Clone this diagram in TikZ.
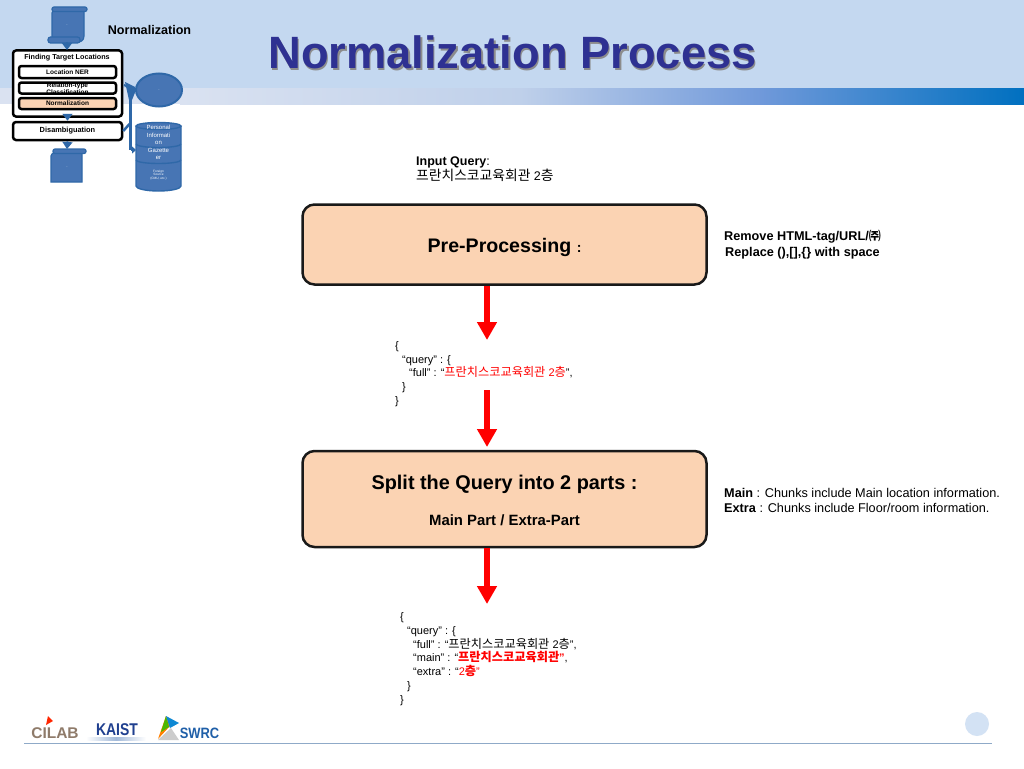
\documentclass[tikz,border=0pt]{standalone}
\usepackage{fontspec}
\setmainfont{Liberation Sans}
\newfontfamily\cjk{Noto Sans CJK KR}
\usetikzlibrary{arrows.meta,shapes.geometric,shapes.arrows,shadows}
\definecolor{hdr}{HTML}{C4D8F0}
\definecolor{bandA}{HTML}{DAE2F1}
\definecolor{bandB}{HTML}{BFD0EA}
\definecolor{bandC}{HTML}{7099DA}
\definecolor{hdrb}{HTML}{0070C0}
\definecolor{peach}{HTML}{FBD3B3}
\definecolor{ttl}{HTML}{2E3192}
\definecolor{flow}{HTML}{4775B4}
\definecolor{flowd}{HTML}{2F68A8}
\definecolor{footrule}{HTML}{8FAAC8}
\definecolor{cilabc}{HTML}{8F7B6A}
\definecolor{kaistc}{HTML}{1F3F8F}
\definecolor{swrcc}{HTML}{1F5FA8}
\newcommand{\fs}[1]{\fontsize{#1}{#1}\selectfont}
\newcommand{\lines}[2]{\fontsize{#1}{#2}\selectfont\lineskiplimit=-100pt\relax}
\tikzset{
  x=1pt,y=-1pt,
  bigbox/.style={draw=black!90,line width=2.5pt,rounded corners=12pt,fill=peach},
  bodytext/.style={inner sep=0pt,align=left,anchor=north west},
  redarrow/.style={draw=red,line width=6pt,-{Triangle[length=18pt,width=19pt]}},
  mini/.style={draw=black,line width=2.5pt,rounded corners=2.5pt,fill=white,align=center,inner sep=0pt,font=\bfseries\fs{6.5}},
  mflow/.style={draw=flowd,line width=1.6pt,-{Triangle[length=7pt,width=10pt]}},
  doc/.style={draw=flowd,fill=flow,line width=1.2pt},
  dbpart/.style={draw=flowd,fill=flow,line width=1.4pt},
  tiny/.style={font=\fs{2.5},text=white,align=center,inner sep=0pt},
}
\begin{document}
\begin{tikzpicture}
\useasboundingbox (0,0) rectangle (1024,768);
\fill[white] (0,0) rectangle (1024,768);
% header
\fill[hdr] (0,0) rectangle (1024,88);
\fill[bandA] (0,88) rectangle (180,104);
\shade[left color=bandA,right color=bandB] (180,88) rectangle (520.5,104);
\shade[left color=bandB,right color=bandC] (520,88) rectangle (760.5,104);
\shade[left color=bandC,right color=hdrb] (760,88) rectangle (1024,104);
\node[inner sep=0pt,text=black!45,font=\bfseries\fs{45.3}] (titles) at (514,54) {Normalization Process};
\node[inner sep=0pt,text=ttl,font=\bfseries\fs{45.3}] (title) at (512.5,52.5) {Normalization Process};
\node[inner sep=0pt,font=\bfseries\fs{12.6}] (mininame) at (149.5,29.5) {Normalization};
% mini flow
\draw[doc] (57,10) -- (84,10) -- (84,36) .. controls (84,41) and (80,42) .. (78,42) -- (52,42) -- (52,13) .. controls (52,10) and (54,10) .. (57,10) -- cycle;
\draw[doc,rounded corners=2pt] (52,7) rectangle (87,11.5);
\draw[doc,rounded corners=2.5pt] (48,37) rectangle (80,43);
\node[tiny] (docin) at (67,25) {...};
\coordinate (a1s) at (67,42);\coordinate (a1e) at (67,50);
\node[draw=black,line width=2.5pt,rounded corners=3pt,fill=white,minimum width=109pt,minimum height=66pt,inner sep=0pt] (ftl) at (67.5,83.5) {};
\node[inner sep=0pt,font=\bfseries\fs{7.2}] (ftlt) at (67,58) {Finding Target Locations};
\node[mini,minimum width=97pt,minimum height=12pt] (ner) at (67.5,72) {Location NER};
\node[mini,minimum width=97pt,minimum height=11pt] (rel) at (67.5,88) {};
\begin{scope}
\clip (18,81.5) rectangle (117,94.5);
\node[inner sep=0pt,align=center,font=\bfseries\fs{6.5}] (relt) at (67.5,88.5) {Relation-type\\[1pt]Classification};
\end{scope}
\node[mini,fill=peach,minimum width=97pt,minimum height=11pt] (norm) at (67.5,103.5) {Normalization};
\node[draw=black,line width=2.5pt,rounded corners=3pt,fill=white,minimum width=109pt,minimum height=18pt,inner sep=0pt,font=\bfseries\fs{7.4}] (dis) at (67.5,131) {Disambiguation};
\draw[doc] (56,153) -- (82,153) -- (82,182) -- (51,182) -- (51,156) .. controls (51,153) and (53,153) .. (56,153) -- cycle;
\draw[doc,rounded corners=2pt] (53,149) rectangle (86,153.5);
\node[tiny] (docout) at (67,167) {...};
\draw[mflow] (a1s) -- (a1e);
\draw[mflow] (ftl.south) -- (dis.north);
\draw[mflow] (dis.south) -- (67,149);
\node[ellipse,draw=flowd,fill=flow,line width=2pt,minimum width=46pt,minimum height=33pt,inner sep=0pt,tiny] (ell) at (159,90) {...};
% db
\draw[dbpart] (136,126) -- (136,186) arc[start angle=180,end angle=0,x radius=22.5,y radius=5] -- (181,126);
\draw[dbpart] (158.5,126) ellipse[x radius=22.5,y radius=3.5];
\draw[draw=flowd,line width=1.4pt] (136,144) arc[start angle=180,end angle=0,x radius=22.5,y radius=3.5];
\draw[draw=flowd,line width=1.4pt] (136,160) arc[start angle=180,end angle=0,x radius=22.5,y radius=3.5];
\node[inner sep=0pt,align=center,text=white,font=\fs{6}] (db1) at (158.5,135) {Personal\\[1.5pt]Informati\\[1.5pt]on};
\node[inner sep=0pt,align=center,text=white,font=\fs{6}] (db2) at (158.5,154) {Gazette\\[1.5pt]er};
\node[inner sep=0pt,align=center,text=white,font=\fs{3.2}] (db3) at (158.5,175) {Foreign\\Source\\(CMU, etc.)};
% mini side connectors
\coordinate (j1) at (130.5,92);
\coordinate (j2) at (130.5,150);
\draw[flowd,line width=3pt] (j1) -- (j2);
\draw[flowd,line width=2pt] (124,85) -- (ell.west);
\draw[flowd,line width=2.5pt] (dis.east) -- (129.5,124);
\draw[flowd,line width=2.5pt,-{Triangle[length=4pt,width=7pt]}] (j2) -- (136,150);
\fill[flowd] (125,82) -- (135,87) -- (136,90) -- (132,100) -- (129,100) -- cycle;
% main query
\node[bodytext,font=\lines{12.5}{14.5}] (input) at (416,157) {\textbf{Input Query}:\\{\cjk\fs{13.8}프란치스코교육회관} 2{\cjk\fs{13.8}층}};
\node[bigbox,minimum width=404pt,minimum height=80pt,inner sep=0pt] (pre) at (504.5,244.5) {};
\node[inner sep=0pt,font=\bfseries\fs{19.6}] (pret) at (504.5,247.5) {Pre-Processing \fs{14}:};
\node[inner sep=0pt,align=center,font=\bfseries\lines{12.7}{16}] (pren) at (802.5,245) {Remove HTML-tag/URL/{\cjk\fs{12}㈜}\\Replace (),[],\{\} with space};
\node[bodytext,font=\lines{11}{13.6}] (j1t) at (395,341.5) {\{\\
\hspace*{7pt}“query” : \{\\
\hspace*{14pt}“full” : “\textcolor{red}{{\cjk\fs{12.2}프란치스코교육회관} 2{\cjk\fs{12.2}층}}”,\\
\hspace*{7pt}\}\\
\}};
\node[bigbox,minimum width=404pt,minimum height=96pt,inner sep=0pt] (split) at (504.5,499) {};
\node[inner sep=0pt,font=\bfseries\fs{19.85}] (splitt) at (504.5,484.5) {Split the Query into 2 parts :};
\node[inner sep=0pt,font=\bfseries\fs{14.9}] (splits) at (504.5,520.5) {Main Part / Extra-Part};
\node[bodytext,font=\lines{12.7}{15.2}] (splitn) at (724,488) {\textbf{Main} : Chunks include Main location information.\\\textbf{Extra} : Chunks include Floor/room information.};
\node[bodytext,font=\lines{11}{13.75}] (j2t) at (400,612.5) {\{\\
\hspace*{7pt}“query” : \{\\
\hspace*{13pt}“full” : “{\cjk\fs{12.2}프란치스코교육회관} 2{\cjk\fs{12.2}층}”,\\
\hspace*{13pt}“main” : “\textcolor{red}{\bfseries{\cjk\bfseries\fs{12.2}프란치스코교육회관}”},\\
\hspace*{13pt}“extra” : “\textcolor{red}{2{\cjk\bfseries\fs{12.2}층}”}\\
\hspace*{7pt}\}\\
\}};
\coordinate (a1e2) at (487,340);
\coordinate (a2s) at (487,390);
\coordinate (a2e) at (487,447);
\coordinate (a3e) at (487,604);
\draw[redarrow] (pre.south -| a1e2) -- (a1e2);
\draw[redarrow] (a2s) -- (a2e);
\draw[redarrow] (split.south -| a3e) -- (a3e);
% footer
\draw[draw=footrule,line width=1.2pt] (24,743.5) -- (992,743.5);
\node[circle,fill=hdr!75!white,minimum size=24pt,inner sep=0pt] (dot) at (977,724) {};
% logos
\node[inner sep=0pt,text=cilabc,font=\bfseries\fs{15.5}] (cilab) at (55,733) {CILAB};
\fill[red!70!orange] (48,716) -- (53,721) -- (46,725) -- cycle;
\node[inner sep=0pt,text=kaistc,xscale=.82,font=\bfseries\fs{17}] (kaist) at (117,730) {KAIST};
\shade[left color=white,right color=white,middle color=flow!50!white] (86,737) rectangle (146,740);
\fill[orange] (158,739) -- (166,716) -- (170,726) -- cycle;
\fill[green!60!black!70!yellow] (161,732) -- (166,716) -- (169,727) -- cycle;
\fill[cyan!70!blue] (166,716) -- (179,723) -- (170,728) -- cycle;
\fill[black!20] (158,740) -- (171,728) -- (179,740) -- cycle;
\node[inner sep=0pt,text=swrcc,xscale=.86,font=\bfseries\fs{15}] (swrc) at (199.5,733.5) {SWRC};
\end{tikzpicture}
\end{document}
